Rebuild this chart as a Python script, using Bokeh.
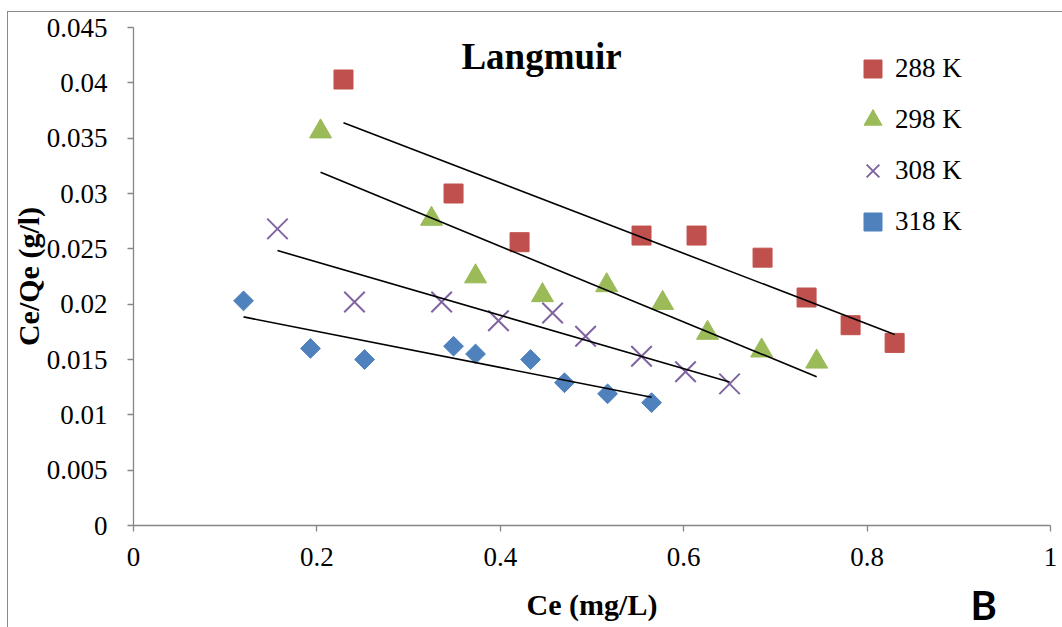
import numpy as np
from bokeh.plotting import figure
from bokeh.models import Range1d, FixedTicker, CustomJSTickFormatter, Legend, LegendItem, Label, Title
from bokeh.embed import file_html
from bokeh.resources import INLINE

# ---- data ----
x_288 = [0.229, 0.349, 0.421, 0.554, 0.614, 0.686, 0.734, 0.782, 0.830]
y_288 = [0.0403, 0.0300, 0.0256, 0.0262, 0.0262, 0.0242, 0.0206, 0.0181, 0.0165]
x_298 = [0.204, 0.325, 0.373, 0.446, 0.516, 0.577, 0.626, 0.685, 0.745]
y_298 = [0.0356, 0.0277, 0.0225, 0.0208, 0.0217, 0.0201, 0.0174, 0.0158, 0.0148]
x_308 = [0.157, 0.241, 0.336, 0.398, 0.457, 0.493, 0.554, 0.602, 0.650]
y_308 = [0.0268, 0.0202, 0.0202, 0.0185, 0.0192, 0.0171, 0.0153, 0.0139, 0.0128]
x_318 = [0.120, 0.193, 0.252, 0.349, 0.373, 0.433, 0.470, 0.517, 0.565]
y_318 = [0.0203, 0.0160, 0.0150, 0.0162, 0.0155, 0.0150, 0.0129, 0.0119, 0.0111]
series_names = ["288 K", "298 K", "308 K", "318 K"]
x_ticks = [0, 0.2, 0.4, 0.6, 0.8, 1.0]
y_ticks = [0, 0.005, 0.01, 0.015, 0.02, 0.025, 0.03, 0.035, 0.04, 0.045]

SERIF = "Liberation Serif"
AXIS_GREY = "#868686"

p = figure(frame_width=917, frame_height=498,
           min_border_left=125, min_border_right=12, min_border_top=15, min_border_bottom=102,
           x_range=Range1d(0, 1), y_range=Range1d(0, 0.045),
           output_backend="svg", toolbar_location=None, background_fill_color="white",
           border_fill_color="white")
p.margin = (11, 0, 0, 7)
p.styles = {"border-top": "1px solid #8a8a8a", "border-left": "1px solid #8a8a8a"}
p.outline_line_color = None
p.xgrid.visible = False
p.ygrid.visible = False

fmt = CustomJSTickFormatter(code="return parseFloat(tick.toFixed(4)).toString();")
for ax, ticks in ((p.xaxis[0], x_ticks), (p.yaxis[0], y_ticks)):
    ax.ticker = FixedTicker(ticks=ticks)
    ax.formatter = fmt
    ax.axis_line_color = AXIS_GREY
    ax.axis_line_width = 1.3
    ax.major_tick_line_color = AXIS_GREY
    ax.major_tick_line_width = 1.3
    ax.major_tick_in = 0
    ax.major_tick_out = 6
    ax.minor_tick_line_color = None
    ax.major_label_text_font = SERIF
    ax.major_label_text_font_size = "27px"
    ax.major_label_text_color = "black"
    ax.axis_label_text_font = SERIF
    ax.axis_label_text_font_style = "bold"
    ax.axis_label_text_font_size = "30px"
    ax.axis_label_text_color = "black"

p.xaxis.major_label_standoff = 16
p.yaxis.major_label_standoff = 20
p.xaxis.axis_label = "Ce (mg/L)"
p.xaxis.axis_label_standoff = 19

r288 = p.scatter(x_288, y_288, marker="square", size=19, fill_color="#C0504D", line_color="#C0504D")
r298 = p.scatter(x_298, y_298, marker="triangle", size=22, fill_color="#9BBB59", line_color="#9BBB59")
r308 = p.scatter(x_308, y_308, marker="x", size=29, line_color="#8064A2", line_width=2)
r318 = p.scatter(x_318, y_318, marker="square", angle=np.pi / 4, size=14,
                 fill_color="#4F81BD", line_color="#4F81BD")

# linear trend lines (least squares fit of each series over its own x span)
for xs, ys in ((x_288, y_288), (x_298, y_298), (x_308, y_308), (x_318, y_318)):
    k, b = np.polyfit(xs, ys, 1)
    xe = np.array([min(xs), max(xs)])
    p.line(xe, k * xe + b, line_color="black", line_width=1.6)

legend = Legend(items=[LegendItem(label=n, renderers=[r]) for n, r in
                       zip(series_names, (r288, r298, r308, r318))],
                location=(717, 281), glyph_width=45, glyph_height=45, spacing=6,
                label_standoff=0, padding=0, margin=0,
                label_text_font=SERIF, label_text_font_size="27px", label_text_color="black",
                border_line_color=None, background_fill_alpha=0)
p.add_layout(legend)

p.add_layout(Label(x=0.445, y=0.0424, text="Langmuir", text_font=SERIF, text_font_style="bold",
                   text_color="black", text_font_size="37px", text_align="center",
                   text_baseline="middle"))

# y axis title as a side title
p.add_layout(Title(text="Ce/Qe (g/l)", align="center", text_font=SERIF, text_font_style="bold",
                   text_font_size="30px", text_color="black", standoff=-3), "left")

# panel letter, in the bottom side panel so it is not clipped to the frame
p.add_layout(Label(x=0.927, y=-0.0072, text="B", text_font="Lato", text_font_style="bold",
                   text_color="black", text_font_size="40px", text_align="center",
                   text_baseline="middle"), "below")

open("out.html", "w").write(file_html(p, INLINE))
